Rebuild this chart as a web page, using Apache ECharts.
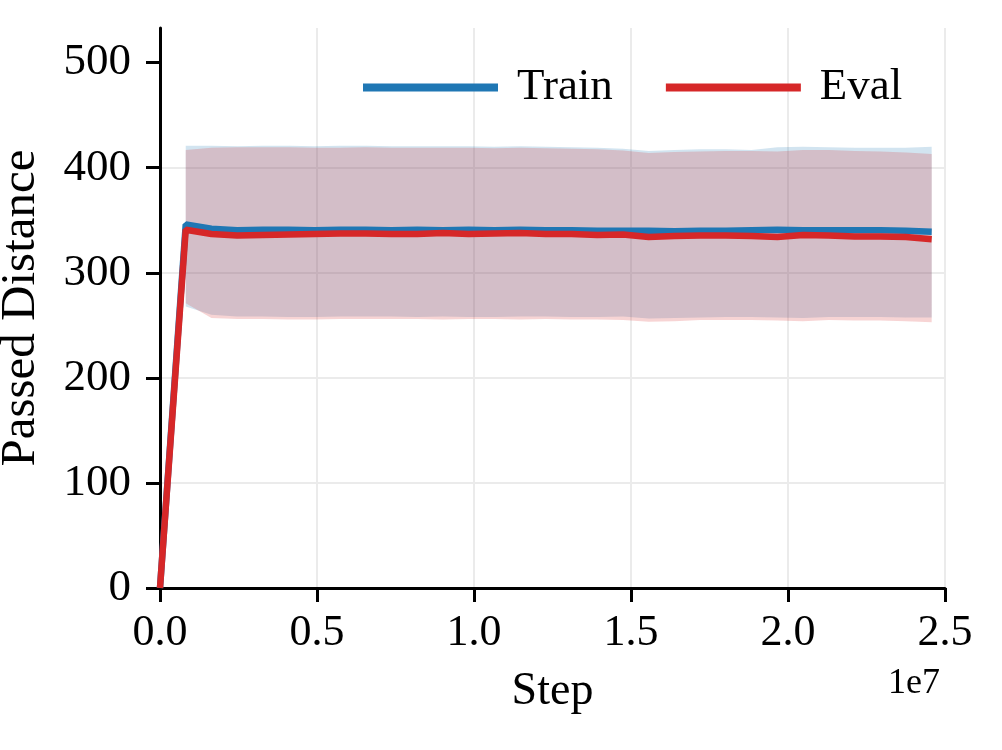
<!DOCTYPE html>
<html>
<head>
<meta charset="utf-8">
<script src="https://cdn.jsdelivr.net/npm/echarts@6/dist/echarts.min.js"></script>
<style>
  html, body { margin: 0; padding: 0; background: #fff; }
  #main { width: 1002px; height: 750px; }
</style>
</head>
<body>
<div id="main"></div>
<script>
// training steps (x values)
var steps = [0, 819200, 1638400, 2457600, 3276800, 4096000, 4915200, 5734400, 6553600, 7372800,
  8192000, 9011200, 9830400, 10649600, 11468800, 12288000, 13107200, 13926400, 14745600, 15564800,
  16384000, 17203200, 18022400, 18841600, 19660800, 20480000, 21299200, 22118400, 22937600, 23756800, 24576000];

// mean passed distance
var trainMean = [0, 346, 342, 340.5, 341, 341, 340.5, 341, 341, 340.5, 341, 340.5, 341, 340.5, 341, 340.5,
  340.5, 340, 340, 340, 339.5, 340, 340, 340.5, 341, 340.5, 340.5, 340.5, 340.5, 340, 339];
var evalMean = [0, 341, 337, 335.5, 336, 336.5, 337, 337.5, 337.5, 337, 337, 338, 337, 337.5, 338, 337,
  337, 336, 336.5, 334, 335, 335.5, 335.5, 335, 334, 336, 335.5, 334.5, 334.5, 334, 332];

// shaded band (mean +- std), nothing at step 0
var trainUpper = [null, 421, 421, 420.5, 421, 421, 420.5, 421, 421, 420.5, 420.5, 420.5, 420.5, 420, 420.5, 420,
  419.5, 419, 418, 416, 417, 417.5, 417.5, 417, 419.5, 420, 419.5, 419, 419, 419, 420];
var trainLower = [null, 268, 260, 258.5, 258.5, 258, 258, 258.5, 258.5, 258.5, 258, 258.5, 258, 258, 258.5, 258.5,
  258, 258, 258.5, 256.5, 257, 257.5, 258, 258, 257.5, 257, 258, 258, 258, 257.5, 257.5];
var evalUpper = [null, 417, 419, 419.5, 419.5, 419.5, 419, 419, 419.5, 419, 419, 419, 419, 418.5, 419, 418.5,
  418, 417.5, 416.5, 414, 415, 415.5, 416, 416, 415.5, 417, 417, 416, 415.5, 414.5, 413];
var evalLower = [null, 271, 257, 256, 256, 255.5, 255.5, 256, 256, 256, 256, 255.5, 256, 256, 255.5, 256,
  255.5, 255.5, 255, 253.5, 254, 255, 255, 255, 254.5, 254, 255, 254.5, 254.5, 254, 253];

var yTicks = [0, 100, 200, 300, 400, 500];

var FONT = 'Liberation Serif';
var BLUE = '#1f77b4', RED = '#d62728';

// rows are [value, step] so the stack runs on the value dimension
function rows(arr) {
  var out = [];
  for (var i = 0; i < arr.length; i++) {
    if (arr[i] != null) out.push([arr[i], steps[i]]);
  }
  return out;
}
function widths(up, lo) {
  var out = [];
  for (var i = 0; i < up.length; i++) {
    if (up[i] != null) out.push([up[i] - lo[i], steps[i]]);
  }
  return out;
}
function band(name, lo, up, color) {
  return [{
    name: name + 'Lo', type: 'line', stack: name, data: rows(lo), encode: { x: 1, y: 0 },
    symbol: 'none', silent: true, lineStyle: { opacity: 0 }
  }, {
    name: name + 'Band', type: 'line', stack: name, data: widths(up, lo), encode: { x: 1, y: 0 },
    symbol: 'none', silent: true, lineStyle: { opacity: 0 },
    areaStyle: { color: color, opacity: 0.2 }
  }];
}

var chart = echarts.init(document.getElementById('main'));

var option = {
  backgroundColor: '#fff',
  animation: false,
  textStyle: { fontFamily: FONT },
  grid: { left: 160, right: 57, top: 28, bottom: 162, outerBoundsMode: 'none', containLabel: false },
  legend: {
    data: ['Train', 'Eval'],
    left: 363, top: 65, padding: 0,
    icon: 'rect',
    itemWidth: 135, itemHeight: 8,
    itemGap: 53,
    textStyle: { fontFamily: FONT, fontSize: 45, color: '#000', padding: [0, 0, 0, 14] }
  },
  xAxis: {
    type: 'value', min: 0, max: 25000000, interval: 5000000,
    name: 'Step', nameLocation: 'middle', nameGap: 81,
    nameTextStyle: { fontFamily: FONT, fontSize: 46, color: '#000' },
    axisLine: { lineStyle: { color: '#000', width: 3 } },
    axisTick: { show: true, length: 14, lineStyle: { color: '#000', width: 3 } },
    axisLabel: {
      fontFamily: FONT, fontSize: 44, color: '#000', margin: 23,
      formatter: function (v) { return (v / 1e7).toFixed(1); }
    },
    splitLine: { show: true, lineStyle: { color: '#ebebeb', width: 2 } }
  },
  yAxis: {
    type: 'value', min: 0, max: 533, interval: 100,
    name: 'Passed Distance', nameLocation: 'middle', nameGap: 114,
    nameTextStyle: { fontFamily: FONT, fontSize: 49, color: '#000' },
    axisLine: { show: true, lineStyle: { color: '#000', width: 3 } },
    axisTick: { show: true, length: 14, customValues: yTicks, lineStyle: { color: '#000', width: 3 } },
    axisLabel: { fontFamily: FONT, fontSize: 45, color: '#000', margin: 29, customValues: yTicks },
    splitLine: { show: true, showMaxLine: false, lineStyle: { color: '#ebebeb', width: 2 } }
  },
  graphic: [{
    type: 'text', right: 62, top: 666,
    style: { text: '1e7', fontFamily: FONT, fontSize: 36, fill: '#000' }
  }],
  series: band('train', trainLower, trainUpper, BLUE)
    .concat(band('eval', evalLower, evalUpper, RED))
    .concat([{
      name: 'Train', type: 'line', data: rows(trainMean), encode: { x: 1, y: 0 }, symbol: 'none',
      color: BLUE, lineStyle: { color: BLUE, width: 6.5 }, z: 5
    }, {
      name: 'Eval', type: 'line', data: rows(evalMean), encode: { x: 1, y: 0 }, symbol: 'none',
      color: RED, lineStyle: { color: RED, width: 6.5 }, z: 6
    }])
};

chart.setOption(option);
</script>
</body>
</html>
